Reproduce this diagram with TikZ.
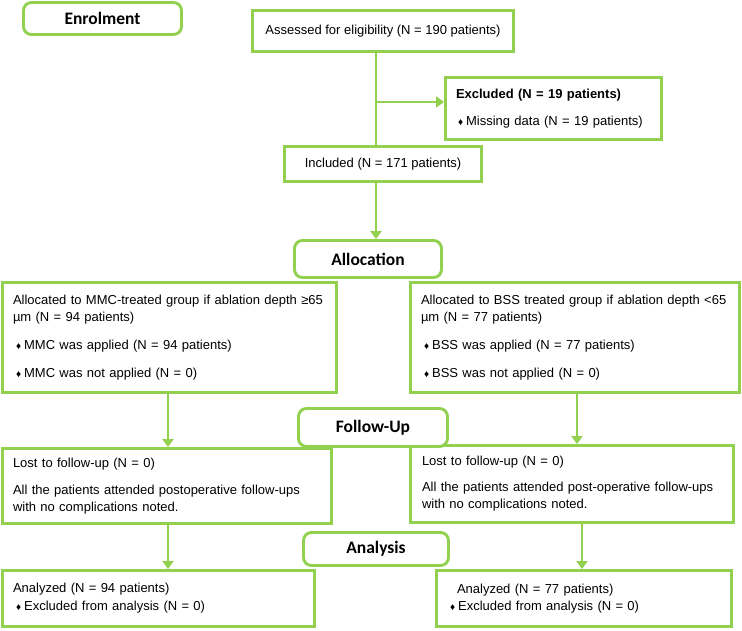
\documentclass[tikz,border=0pt]{standalone}
\usepackage{fontspec}
\setmainfont{Liberation Sans}
\newfontfamily\headfont{Carlito}
\usetikzlibrary{arrows.meta}
\definecolor{boxgreen}{RGB}{146,208,80}
\newcommand\bodyfont{\fontsize{13}{17}\selectfont}
\newcommand\hfont{\headfont\bfseries\fontsize{17.5}{21}\selectfont}
\newcommand\bul{{\fontsize{10}{10}\selectfont ♦}\hspace{3pt}}
\tikzset{
  gline/.style={draw=boxgreen, line width=2.9pt},
  headbox/.style={gline, fill=white, rounded corners=8pt, inner sep=0pt, font=\hfont},
  cbox/.style={gline, fill=white, inner sep=0pt, font=\bodyfont},
  lbox/.style={cbox, align=left, inner ysep=0pt},
  conn/.style={draw=boxgreen, line width=2.9pt},
  arr/.style={conn, -{Triangle[width=11pt,length=8pt]}},
}
\begin{document}
\begin{tikzpicture}[x=1pt,y=-1pt]
\useasboundingbox (0,0) rectangle (742,631);

% plain boxes
\node[cbox, minimum width=261pt, minimum height=41pt] (assess) at (383,31) {Assessed for eligibility (N = 190 patients)};
\node[lbox, text width=195pt, inner xsep=10.5pt, minimum height=62pt] (excl) at (553.5,108.5)
  {\textbf{Excluded (N = 19 patients)}\\[10pt]\hspace*{2pt}\bul Missing data (N = 19 patients)};
\node[cbox, minimum width=197pt, minimum height=35pt] (incl) at (383,164) {Included (N = 171 patients)};

\node[lbox, text width=313pt, inner xsep=10.5pt, minimum height=110pt] (mmc) at (169.5,337.5)
  {\mbox{Allocated to MMC-treated group if ablation depth ≥65}\\
   µm (N = 94 patients)\\[11pt]
   \hspace*{3pt}\bul MMC was applied (N = 94 patients)\\[11pt]
   \hspace*{3pt}\bul MMC was not applied (N = 0)};
\node[lbox, text width=308pt, inner xsep=10.5pt, minimum height=110pt] (bss) at (575,337.5)
  {\mbox{Allocated to BSS treated group if ablation depth <65}\\
   µm (N = 77 patients)\\[11pt]
   \hspace*{3pt}\bul BSS was applied (N = 77 patients)\\[11pt]
   \hspace*{3pt}\bul BSS was not applied (N = 0)};

\node[lbox, text width=308pt, inner xsep=10.5pt, minimum height=75pt] (lfu) at (167,486)
  {Lost to follow-up (N = 0)\\[10pt]
   \mbox{All the patients attended postoperative follow-ups}\\
   with no complications noted.};
\node[lbox, text width=300pt, inner xsep=11.5pt, minimum height=77pt] (rfu) at (572,484)
  {Lost to follow-up (N = 0)\\[9pt]
   \mbox{All the patients attended post-operative follow-ups}\\
   with no complications noted.};

\node[lbox, text width=291pt, inner xsep=10.5pt, minimum height=56pt] (lan) at (158.5,598.5)
  {Analyzed (N = 94 patients)\\[1pt]
   \hspace*{3pt}\bul Excluded from analysis (N = 0)};
\node[lbox, text width=268pt, inner xsep=13.5pt, minimum height=56pt] (ran) at (584,598.5)
  {\hspace*{7pt}Analyzed (N = 77 patients)\\
   \bul Excluded from analysis (N = 0)};

% connectors
\coordinate (trunk) at (376,0);
\coordinate (br) at (376,102);
\coordinate (cl) at (168,0);
\coordinate (cr) at (577,0);
\coordinate (cr2) at (582,0);
\draw[conn] (assess.south -| trunk) -- (incl.north -| trunk);
\draw[arr] (br) -- (br -| excl.west);

% heading boxes
\node[headbox, minimum width=158pt, minimum height=32pt] (enrol) at (102.5,18.5) {Enrolment};
\node[headbox, minimum width=147pt, minimum height=37pt] (alloc) at (368,259) {Allocation};
\node[headbox, minimum width=149pt, minimum height=38pt] (fu) at (373,427.5) {Follow-Up};
\node[headbox, minimum width=145pt, minimum height=33pt] (anal) at (376,549) {Analysis};

\draw[arr] (incl.south -| trunk) -- (alloc.north -| trunk);
\draw[arr] (mmc.south -| cl) -- (lfu.north -| cl);
\draw[arr] (bss.south -| cr) -- (rfu.north -| cr);
\draw[arr] (lfu.south -| cl) -- (lan.north -| cl);
\draw[arr] (rfu.south -| cr2) -- (ran.north -| cr2);
\end{tikzpicture}
\end{document}
